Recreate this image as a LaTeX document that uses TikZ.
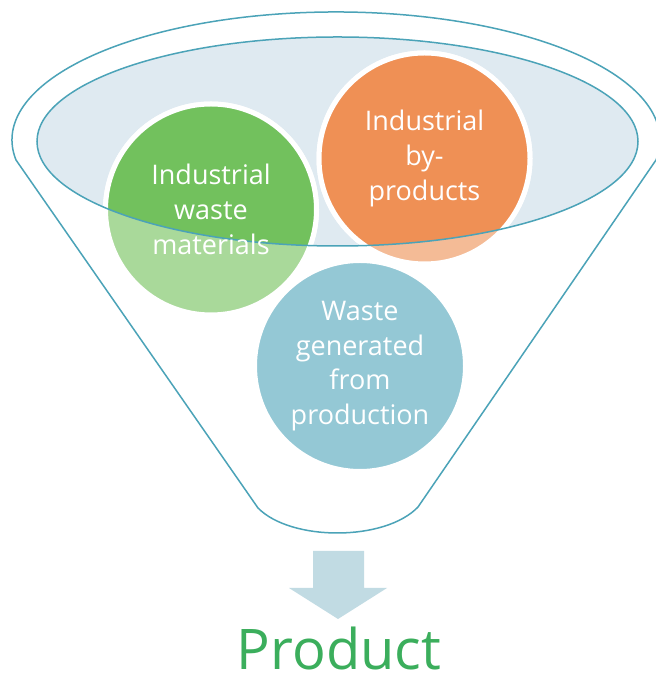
\documentclass[tikz,border=0pt]{standalone}
\usepackage{fontspec}
\setmainfont{Open Sans}
\usepackage{tikz}
\usepackage{xcolor}

\definecolor{rimteal}{HTML}{4BA3B8}
\definecolor{bowlfill}{HTML}{DFEAF1}
\definecolor{greendark}{HTML}{72C15D}
\definecolor{greenlight}{HTML}{A9D99A}
\definecolor{orangedark}{HTML}{EF9055}
\definecolor{orangelight}{HTML}{F4BB96}
\definecolor{bluecirc}{HTML}{94C8D5}
\definecolor{arrowfill}{HTML}{C1DBE3}
\definecolor{productgreen}{HTML}{3BAE5C}

\tikzset{
  rim/.style={draw=rimteal, line width=1.5pt},
  bubble/.style={circle, draw=white, line width=5pt, minimum size=211pt, inner sep=0pt,
    text=white, align=center, font=\fontsize{27}{34.7}\selectfont},
}

\begin{document}
\begin{tikzpicture}[scale=1.000000,x=1pt,y=1pt]
\useasboundingbox (0.000000,0.000000) rectangle (655.000000,676.000000);
\fill[color=white] (0.000000,0.000000) rectangle (655.000000,676.000000);
% Drawing funnel
\draw[rim, fill=white] (258.000000,168.000000) -- (16.000000,516.000000)
  arc[start angle=189, end angle=-9, x radius=324, y radius=128]
  -- (418.000000,169.000000) .. controls (385.000000,134.500000) and (291.000000,134.500000) .. (258.000000,168.000000) -- cycle;
% Drawing bowl
\fill[color=bowlfill] (337.500000,534.500000) ellipse [x radius=300.5, y radius=104.5];
% Drawing bubbles
\node[bubble, fill=greenlight] (waste) at (211.000000,466.500000) {};
\node[bubble, fill=orangelight] (byprod) at (424.500000,517.500000) {};
\node[bubble, fill=bluecirc] (prodwaste) at (360.000000,310.000000) {};
% Darker part of the bubbles inside the bowl
\begin{scope}
\clip (337.500000,534.500000) ellipse [x radius=300.5, y radius=104.5];
\filldraw[fill=greendark, draw=white, line width=5pt] (waste.center) circle (105.5);
\filldraw[fill=orangedark, draw=white, line width=5pt] (byprod.center) circle (105.5);
\end{scope}
\draw[rim] (337.500000,534.500000) ellipse [x radius=300.5, y radius=104.5];
% Bubble texts
\node[bubble, draw=none] at (waste.center) {Industrial\\waste\\materials};
\node[bubble, draw=none] at (byprod.center) {Industrial\\by-\\products};
\node[bubble, draw=none] at (prodwaste.center) {Waste\\generated\\from\\production};
% Drawing arrow and product
\fill[color=arrowfill] (313.000000,125.000000) -- (364.000000,125.000000) -- (364.000000,88.000000) -- (387.000000,88.000000)
  -- (338.000000,57.000000) -- (289.000000,88.000000) -- (313.000000,88.000000) -- cycle;
\node[anchor=base, inner sep=0pt, text=productgreen, font=\fontsize{56}{67}\selectfont] (product) at (339.000000,6.000000) {Product};
\end{tikzpicture}
\end{document}
